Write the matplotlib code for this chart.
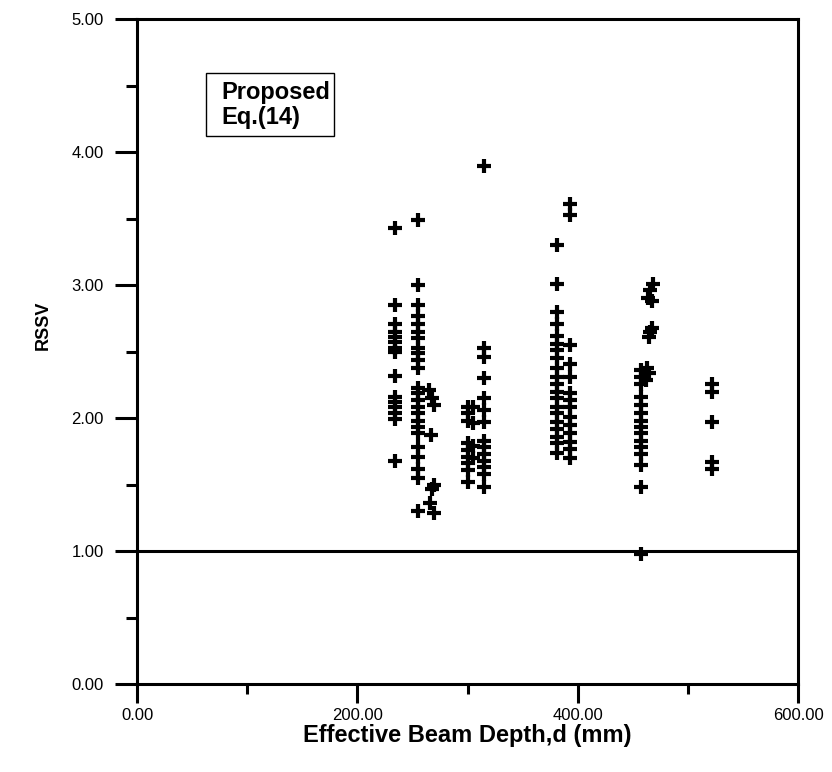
import numpy as np
import matplotlib.pyplot as plt
from matplotlib.ticker import MultipleLocator, FormatStrFormatter
from matplotlib.patches import Rectangle

plt.rcParams['font.family'] = ['Liberation Sans', 'DejaVu Sans']

# effective beam depth d (mm) and RSSV, grouped by column
d_234 = [234] * 15
r_234 = [3.43, 2.85, 2.71, 2.65, 2.61, 2.57, 2.53, 2.50, 2.32, 2.16, 2.12, 2.08, 2.04, 1.99, 1.68]
d_255 = [255] * 24
r_255 = [3.49, 3.00, 2.85, 2.77, 2.71, 2.65, 2.60, 2.53, 2.49, 2.44, 2.38, 2.23, 2.19, 2.14,
         2.08, 2.04, 1.98, 1.93, 1.89, 1.78, 1.71, 1.62, 1.55, 1.30]
d_268 = [265, 268, 270, 267, 270, 268, 266, 270]
r_268 = [2.21, 2.15, 2.10, 1.87, 1.50, 1.47, 1.36, 1.29]
d_300 = [300, 300, 300, 300, 300, 300, 300, 300, 300, 305, 305, 305, 305]
r_300 = [2.08, 2.04, 1.98, 1.81, 1.76, 1.71, 1.66, 1.61, 1.52, 2.08, 1.96, 1.79, 1.70]
d_315 = [315] * 14
r_315 = [3.90, 2.53, 2.46, 2.30, 2.15, 2.06, 1.97, 1.83, 1.78, 1.73, 1.68, 1.63, 1.58, 1.48]
d_381 = [381] * 20
r_381 = [3.30, 3.01, 2.80, 2.71, 2.62, 2.56, 2.51, 2.45, 2.38, 2.31, 2.26, 2.20, 2.15, 2.08,
         2.04, 1.97, 1.92, 1.86, 1.81, 1.74]
d_393 = [393] * 14
r_393 = [3.61, 3.53, 2.55, 2.41, 2.31, 2.19, 2.14, 2.08, 2.01, 1.95, 1.89, 1.82, 1.77, 1.70]
d_457 = [457] * 15
r_457 = [2.36, 2.31, 2.26, 2.16, 2.10, 2.04, 1.98, 1.93, 1.89, 1.83, 1.78, 1.73, 1.65, 1.48, 0.98]
d_465 = [463, 465, 462, 467, 466, 465, 468, 466, 464, 467]
r_465 = [2.38, 2.34, 2.29, 2.68, 2.65, 2.61, 3.01, 2.96, 2.90, 2.88]
d_522 = [522] * 5
r_522 = [2.26, 2.20, 1.97, 1.67, 1.62]

depth = d_234 + d_255 + d_268 + d_300 + d_315 + d_381 + d_393 + d_457 + d_465 + d_522
rssv = r_234 + r_255 + r_268 + r_300 + r_315 + r_381 + r_393 + r_457 + r_465 + r_522

fig = plt.figure(figsize=(8.32, 7.72), dpi=100)
ax = fig.add_axes([0.1647, 0.114, 0.7945, 0.861])

ax.plot(depth, rssv, linestyle='none', marker='+', color='black', ms=10, mew=3)
ax.axhline(1.0, color='black', lw=2.2)

ax.set_xlim(0, 600)
ax.set_ylim(0, 5)
ax.xaxis.set_major_locator(MultipleLocator(200))
ax.xaxis.set_minor_locator(MultipleLocator(100))
ax.yaxis.set_major_locator(MultipleLocator(1))
ax.yaxis.set_minor_locator(MultipleLocator(0.5))
ax.xaxis.set_major_formatter(FormatStrFormatter('%.2f'))
ax.yaxis.set_major_formatter(FormatStrFormatter('%.2f'))

for s in ax.spines.values():
    s.set_linewidth(2.2)
ax.tick_params(which='both', direction='out', width=2.2, labelsize=12)
ax.tick_params(axis='x', which='major', length=14, pad=3)
ax.tick_params(axis='x', which='minor', length=7)
ax.tick_params(axis='y', which='major', length=16, pad=8)
ax.tick_params(axis='y', which='minor', length=8)

ax.set_xlabel('Effective Beam Depth,d (mm)', fontsize=17, fontweight='bold', labelpad=1)
ax.set_ylabel('RSSV', fontsize=13, fontweight='bold')
ax.yaxis.set_label_coords(-0.129, 0.54)

ax.add_patch(Rectangle((0.104, 0.824), 0.194, 0.095, transform=ax.transAxes,
                       fill=False, edgecolor='black', lw=1.0))
ax.text(0.127, 0.907, 'Proposed\nEq.(14)', transform=ax.transAxes, fontsize=17,
        fontweight='bold', va='top', ha='left', linespacing=1.12)

fig.savefig('out.png', dpi=100)
